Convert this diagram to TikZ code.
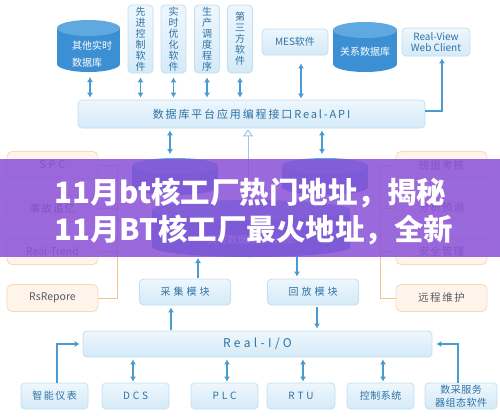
\documentclass[tikz,border=0pt]{standalone}
\usepackage{fontspec}
\setmainfont{Noto Sans CJK SC}
\usetikzlibrary{arrows.meta,calc}
\definecolor{bxb}{HTML}{C2DFF2}
\definecolor{bxf}{HTML}{D4EAF8}
\definecolor{bxt}{HTML}{2F72A4}
\definecolor{arrc}{HTML}{4A9BD0}
\definecolor{cylb}{HTML}{3C8FD2}
\definecolor{cylt}{HTML}{5FA8E0}
\definecolor{ofill}{HTML}{FFF4EA}
\definecolor{obrd}{HTML}{F7DABD}
\definecolor{oline}{HTML}{F2C48E}
\definecolor{otxt}{HTML}{565B66}
\definecolor{bannerc}{HTML}{8A52D8}
\definecolor{hollowc}{HTML}{9FC8E3}
\newcommand\lsp[1]{\addfontfeature{LetterSpace=#1}}
\begin{document}
\begin{tikzpicture}[x=1pt,y=-1pt,
  bbox/.style={draw=bxb, line width=0.8pt, rounded corners=4pt, top color=white!60!bxf, bottom color=bxf,
    text=bxt, font=\fontsize{10}{12}\selectfont, inner sep=0pt, align=center},
  vbox/.style={bbox, minimum width=25pt, minimum height=68pt, font=\fontsize{10}{11}\selectfont},
  lbox/.style={bbox, minimum height=26pt},
  obox/.style={draw=obrd, fill=ofill, rounded corners=5pt, line width=0.8pt, text=otxt,
    minimum width=91pt, minimum height=27pt, inner sep=0pt, font=\fontsize{10.5}{12}\selectfont},
  dar/.style={draw=arrc, line width=1.6pt, {Latex[length=5pt,width=6pt]}-{Latex[length=5pt,width=6pt]}},
  sar/.style={draw=arrc, line width=1.6pt, -{Latex[length=5pt,width=6pt]}},
  oln/.style={draw=oline, line width=0.8pt},
  anchorbox/.style={inner sep=0pt, outer sep=0pt}
]
\useasboundingbox (0,0) rectangle (500,416);
\fill[white] (0,0) rectangle (500,416);

% ---------- cylinders ----------
% db1
\fill[cylb] (57,28) rectangle (120,64);
\fill[cylb] (88.5,64) ellipse[x radius=31.5, y radius=8];
\fill[cylt] (88.5,28) ellipse[x radius=31.5, y radius=8];
\node[anchorbox, minimum width=63pt, minimum height=52pt] (db1) at (88.5,46) {};
\node[text=white, align=left, font=\fontsize{10}{17}\selectfont, inner sep=0pt] (db1t) at (92,54) {其他实时\\数据库};
% db2
\fill[cylb] (333,30) rectangle (397,64);
\fill[cylb] (365,64) ellipse[x radius=32, y radius=8];
\fill[cylt] (365,30) ellipse[x radius=32, y radius=8];
\node[anchorbox, minimum width=64pt, minimum height=50pt] (db2) at (365,47) {};
\node[text=white, font=\fontsize{10}{12}\selectfont, inner sep=0pt] (db2t) at (365,52) {关系数据库};
% dbA, dbB
\fill[cylb] (132,166) rectangle (218,187);
\fill[cylb] (175,187) ellipse[x radius=43, y radius=8];
\fill[cylt] (175,166) ellipse[x radius=43, y radius=8];
\node[anchorbox, minimum width=86pt, minimum height=37pt] (dbA) at (175,176.5) {};
\fill[cylb] (282,166) rectangle (368,187);
\fill[cylb] (325,187) ellipse[x radius=43, y radius=8];
\fill[cylt] (325,166) ellipse[x radius=43, y radius=8];
\node[anchorbox, minimum width=86pt, minimum height=37pt] (dbB) at (325,176.5) {};
% dbC
\fill[cylb] (152,210) rectangle (350,247);
\fill[cylb] (251,247) ellipse[x radius=99, y radius=10];
\fill[cylt] (251,210) ellipse[x radius=99, y radius=10];
\node[anchorbox, minimum width=198pt, minimum height=57pt] (dbC) at (251,228.5) {};
\node[text=white, font=\fontsize{10}{12}\selectfont, inner sep=0pt] (dbCt) at (251,240) {实时数据库Real-DB};

% ---------- top row ----------
\node[vbox] (v1) at (140.5,39) {先\\进\\控\\制\\软\\件};
\node[vbox] (v2) at (173.5,39) {实\\时\\优\\化\\软\\件};
\node[vbox] (v3) at (207,39) {生\\产\\调\\度\\程\\序};
\node[vbox] (v4) at (240,39) {第\\三\\方\\软\\件};
\node[lbox, minimum width=66pt] (mes) at (295,42) {MES软件};
\node[lbox, minimum width=68pt, minimum height=28pt, font=\fontsize{10}{11.5}\selectfont] (rv) at (436,42) {Real-View\\Web Client};

% API bar
\node[bbox, minimum width=347pt, minimum height=28pt, font=\fontsize{11}{13}\selectfont\lsp{17}] (api) at (251.5,114) {数据库平台应用编程接口Real-API};

% ---------- orange boxes ----------
\node[obox] (spc) at (52.5,165) {\lsp{30}SPC};
\node[obox] (sg) at (52.5,208) {\lsp{10}事故追忆};
\node[obox] (rt) at (52.5,251) {Real-Trend};
\node[obox] (rs) at (52.5,298) {RsRepore};
\node[obox] (bz) at (441.5,165) {\lsp{10}班组考核};
\node[obox] (fx) at (441.5,208) {\lsp{10}分析预测};
\node[obox] (aq) at (441.5,251) {\lsp{10}安全管理};
\node[obox] (yc) at (441.5,298) {\lsp{15}远程维护};
\coordinate (lt) at (117,165);
\coordinate (rtp) at (380,165);
\draw[oln] (spc.east) -- (lt) -- (lt |- rs.east) -- (rs.east);
\draw[oln] (sg.east) -- (sg.east -| lt);
\draw[oln] (rt.east) -- (rt.east -| lt);
\draw[oln] (bz.west) -- (rtp) -- (rtp |- yc.west) -- (yc.west);
\draw[oln] (fx.west) -- (fx.west -| rtp);
\draw[oln] (aq.west) -- (aq.west -| rtp);

% ---------- modules ----------
\node[lbox, minimum width=91pt, font=\fontsize{10}{12}\selectfont\lsp{30}] (cj) at (185,292) {采集模块};
\node[lbox, minimum width=91pt, font=\fontsize{10}{12}\selectfont\lsp{30}] (hf) at (313,292) {回放模块};
\node[bbox, minimum width=349pt, minimum height=26pt, font=\fontsize{12}{14}\selectfont\lsp{28}] (io) at (257.5,344) {Real-I/O};

% bottom row
\node[lbox, minimum width=67pt, font=\fontsize{10}{12}\selectfont\lsp{15}] (zn) at (54.5,396) {智能仪表};
\node[lbox, minimum width=67pt, font=\fontsize{10}{12}\selectfont\lsp{30}] (dcs) at (135.5,396) {DCS};
\node[lbox, minimum width=67pt, font=\fontsize{10}{12}\selectfont\lsp{30}] (plc) at (224.5,396) {PLC};
\node[lbox, minimum width=68pt, font=\fontsize{10}{12}\selectfont\lsp{30}] (rtu) at (301,396) {RTU};
\node[lbox, minimum width=67pt, font=\fontsize{10}{12}\selectfont\lsp{5}] (kz) at (380.5,396) {控制系统};
\node[lbox, minimum width=72pt, font=\fontsize{10}{12.5}\selectfont\lsp{5}] (sc) at (461,396) {数采服务\\器组态软件};

% ---------- arrows ----------
\draw[dar, shorten <=5pt, shorten >=2pt] ([xshift=1.5pt]db1.south) -- ([xshift=1.5pt]db1.south |- api.north);
\foreach \n in {v1,v2,v3,v4}{
  \draw[dar, shorten <=4pt, shorten >=2pt] (\n.south) -- (\n.south |- api.north);
}
\draw[dar, shorten <=8pt, shorten >=1pt] ([xshift=6pt]mes.south) -- ([xshift=6pt]mes.south |- api.north);
\draw[sar, shorten >=2pt] ([yshift=3pt]api.east) -| ([xshift=6pt]rv.south);
\draw[dar, shorten <=4pt, shorten >=2pt] ([xshift=-5pt]dbA.north) -- ([xshift=-5pt]dbA.north |- api.south);
\draw[dar, shorten <=4pt, shorten >=2pt] ([xshift=-3pt]dbB.north) -- ([xshift=-3pt]dbB.north |- api.south);
\draw[draw=hollowc, line width=1pt, -{Triangle[open, length=7pt, width=10pt]}, shorten >=1pt] ([xshift=-3pt]dbC.north) -- ([xshift=-3pt]dbC.north |- api.south);
\draw[sar, shorten <=1pt, shorten >=1pt] ([xshift=13pt]cj.north) -- ([xshift=13pt]cj.north |- dbC.south);
\draw[sar, shorten <=0pt, shorten >=2pt] ([xshift=-16pt]hf.north |- dbC.south) -- ([xshift=-16pt]hf.north);
\draw[sar, shorten <=1pt, shorten >=2pt] ([xshift=-14pt]cj.south |- io.north) -- ([xshift=-14pt]cj.south);
\draw[sar, shorten <=2pt, shorten >=2pt] ([xshift=4pt]hf.south) -- ([xshift=4pt]hf.south |- io.north);
\draw[dar, shorten <=1pt, shorten >=2pt] ([xshift=-2.5pt]dcs.north) -- ([xshift=-2.5pt]dcs.north |- io.south);
\draw[dar, shorten <=1pt, shorten >=2pt] ([xshift=2.5pt]plc.north) -- ([xshift=2.5pt]plc.north |- io.south);
\draw[dar, shorten <=1pt, shorten >=2pt] ([xshift=2pt]rtu.north) -- ([xshift=2pt]rtu.north |- io.south);
\draw[dar, shorten <=1pt, shorten >=2pt] ([xshift=2.5pt]kz.north) -- ([xshift=2.5pt]kz.north |- io.south);
\draw[sar, shorten >=3pt] ([xshift=2.5pt]zn.north) |- (io.west);
\draw[sar, shorten >=4pt] ([xshift=-3pt]sc.north) |- (io.east);

% ---------- banner ----------
\fill[bannerc, opacity=0.86] (0,159) rectangle (500,257);
\node[anchor=west, text=white, font=\bfseries\fontsize{29.5}{31}\selectfont, inner sep=0pt] (t1) at (54,193) {11月bt核工厂热门地址，揭秘};
\node[anchor=west, text=white, font=\bfseries\fontsize{29.5}{31}\selectfont, inner sep=0pt] (t2) at (54,230) {11月BT核工厂最火地址，全新};
\end{tikzpicture}
\end{document}
